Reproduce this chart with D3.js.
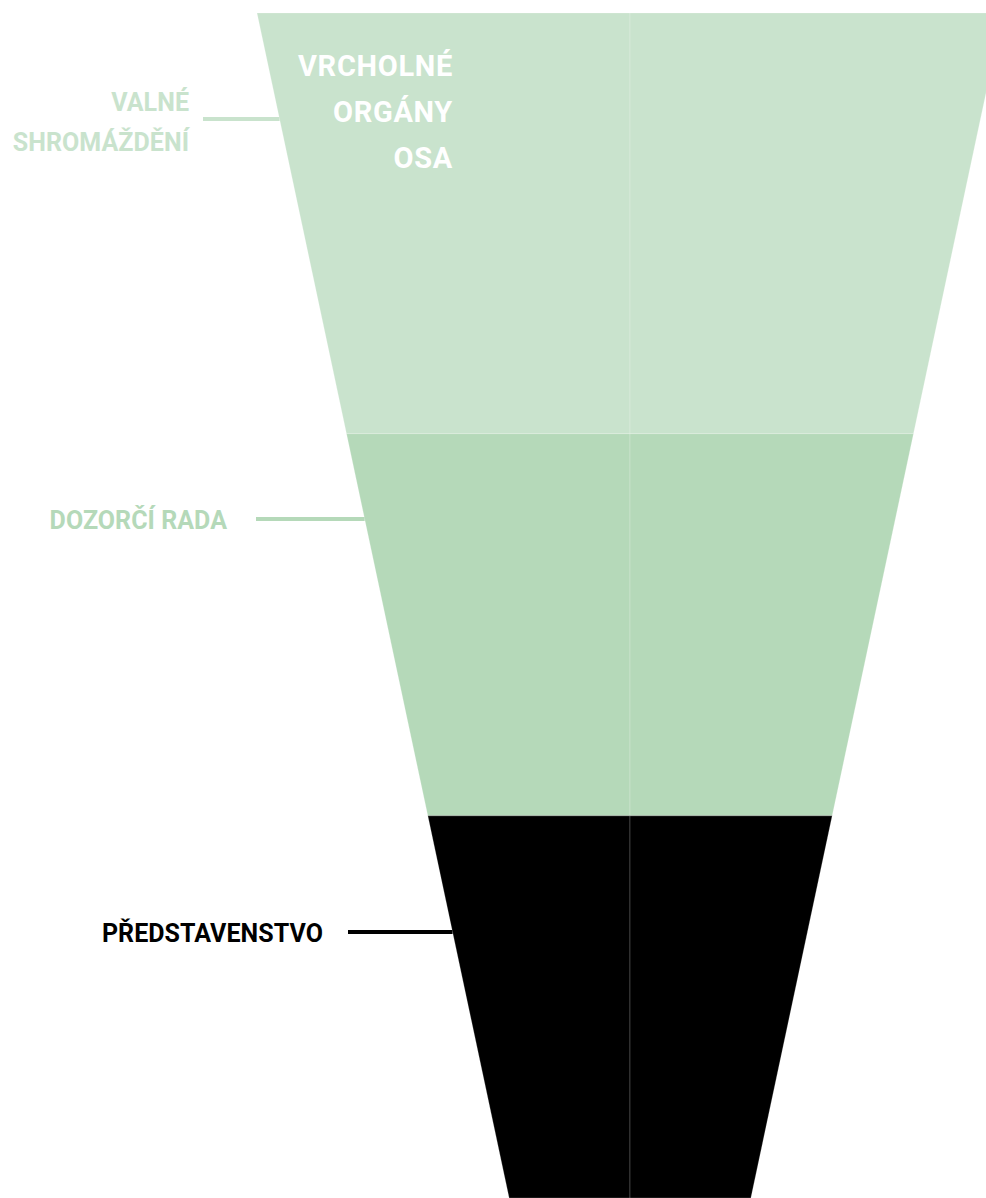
<!DOCTYPE html>
<html>
<head>
<meta charset="utf-8">
<script src="https://cdn.jsdelivr.net/npm/d3@7"></script>
<style>
  html, body { margin: 0; padding: 0; background: #fff; }
  svg { display: block; }
  text { font-family: Roboto, "Open Sans", sans-serif; font-weight: 700; }
</style>
</head>
<body>
<svg class="funnel"></svg>
<script>
// Funnel stages (top to bottom)
var stages = ["VALNÉ SHROMÁŽDĚNÍ", "DOZORČÍ RADA", "PŘEDSTAVENSTVO"];
var stageColors = ["#c9e3cd", "#b5d9b9", "#000000"];
// funnel width at each stage boundary, % of top width
var boundaryWidths = [100, 76, 54.2, 32.4];
var headerLines = ["VRCHOLNÉ", "ORGÁNY", "OSA"];

var svgWidth = 986, svgHeight = 1198;

var svg = d3.select(".funnel")
  .attr("width", svgWidth)
  .attr("height", svgHeight);

// width -> vertical position (linear funnel)
var yScale = d3.scaleLinear()
  .domain([100, 32.4])
  .range([13, 1198]);

// half-width offset -> horizontal position, centred on 630
var xScale = d3.scaleLinear()
  .domain([-50, 50])
  .range([257, 1003]);

var bands = stages.map(function (s, i) {
  return { name: s, color: stageColors[i], w0: boundaryWidths[i], w1: boundaryWidths[i + 1] };
});

// each band drawn as a left and a right half
var halves = [];
bands.forEach(function (b) {
  halves.push({ b: b, side: -1 });
  halves.push({ b: b, side: 1 });
});

svg.selectAll("path.half")
  .data(halves)
  .enter()
  .append("path")
  .attr("class", "half")
  .attr("d", function (d) {
    var y0 = yScale(d.b.w0), y1 = yScale(d.b.w1);
    var pts = [
      [xScale(0), y0],
      [xScale(d.side * d.b.w0 / 2), y0],
      [xScale(d.side * d.b.w1 / 2), y1],
      [xScale(0), y1]
    ];
    return d3.line()(pts) + "Z";
  })
  .attr("fill", function (d) { return d.b.color; })
  .attr("stroke", "rgba(255,255,255,0.2)")
  .attr("stroke-width", 1);

// header text inside top band
svg.append("text")
  .attr("x", 453)
  .attr("y", 76)
  .attr("text-anchor", "end")
  .attr("fill", "#fff")
  .attr("font-size", 29)
  .attr("letter-spacing", 0.7)
  .selectAll("tspan")
  .data(headerLines)
  .enter()
  .append("tspan")
  .attr("x", 453)
  .attr("dy", function (d, i) { return i === 0 ? 0 : 46; })
  .text(function (d) { return d; });

// side labels with connector lines
var labelLayout = [
  { lineY: 119, lineX: 203, textX: 189, lines: ["VALNÉ", "SHROMÁŽDĚNÍ"], baseY: 111, lh: 40 },
  { lineY: 519, lineX: 256, textX: 227, lines: ["DOZORČÍ RADA"], baseY: 529, lh: 0 },
  { lineY: 932, lineX: 348, textX: 323, lines: ["PŘEDSTAVENSTVO"], baseY: 942, lh: 0 }
];

var labels = svg.selectAll("g.label")
  .data(bands)
  .enter()
  .append("g")
  .attr("class", "label");

labels.append("line")
  .attr("x1", function (d, i) { return labelLayout[i].lineX; })
  .attr("x2", function (d, i) {
    var y = labelLayout[i].lineY;
    var w = yScale.invert(y);
    return xScale(-w / 2);
  })
  .attr("y1", function (d, i) { return labelLayout[i].lineY; })
  .attr("y2", function (d, i) { return labelLayout[i].lineY; })
  .attr("stroke", function (d) { return d.color; })
  .attr("stroke-width", 4);

labels.append("text")
  .attr("text-anchor", "end")
  .attr("font-size", 25)
  .attr("letter-spacing", 0.05)
  .attr("fill", function (d) { return d.color; })
  .each(function (d, i) {
    var L = labelLayout[i];
    d3.select(this).selectAll("tspan")
      .data(L.lines)
      .enter()
      .append("tspan")
      .attr("x", L.textX)
      .attr("y", function (t, j) { return L.baseY + j * L.lh; })
      .text(function (t) { return t; });
  });
</script>
</body>
</html>
